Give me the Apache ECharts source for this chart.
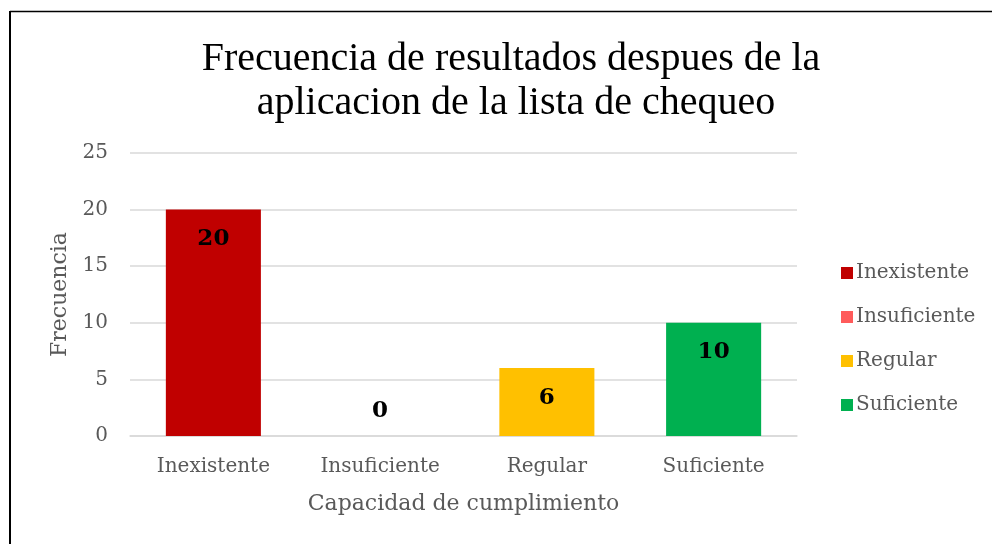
<!DOCTYPE html>
<html>
<head>
<meta charset="utf-8">
<script src="https://cdn.jsdelivr.net/npm/echarts@6/dist/echarts.min.js"></script>
<style>
  html, body { margin: 0; padding: 0; background: #fff; }
  #chart { width: 992px; height: 544px; }
</style>
</head>
<body>
<div id="chart"></div>
<script>
  // datos
  const categories = ['Inexistente', 'Insuficiente', 'Regular', 'Suficiente']
  const values = [20, 0, 6, 10]
  const colors = ['#C00000', '#FF5B5B', '#FFC000', '#00B050']
  const yTicks = [0, 5, 10, 15, 20, 25]

  const serif = '"DejaVu Serif", serif'
  const grey = '#595959'

  const chart = echarts.init(document.getElementById('chart'))

  const series = categories.map((name, i) => {
    const data = categories.map((c, j) => (j === i ? values[i] : '-'))
    const zero = values[i] === 0
    return {
      name: name,
      type: 'bar',
      stack: 'total',
      barWidth: '57%',
      data: data,
      itemStyle: { color: colors[i] },
      label: {
        show: true,
        position: zero ? 'top' : 'insideTop',
        distance: zero ? 13 : 18,
        color: '#000',
        fontFamily: serif,
        fontWeight: 'bold',
        fontSize: 23
      },
      animation: false
    }
  })

  chart.setOption({
    title: {
      text: 'Frecuencia de resultados despues de la\n aplicacion de la lista de chequeo',
      left: 506,
      top: 32,
      textAlign: 'center',
      textStyle: {
        fontFamily: '"Liberation Serif", serif',
        fontWeight: 'normal',
        fontSize: 40,
        lineHeight: 44,
        color: '#000'
      }
    },
    legend: {
      orient: 'vertical',
      left: 836,
      top: 258,
      itemWidth: 12,
      itemHeight: 12,
      itemGap: 24,
      icon: 'rect',
      textStyle: { fontFamily: serif, fontSize: 20, color: grey, padding: [0, 0, 0, -2] },
      data: categories
    },
    grid: { left: 130, right: 195, top: 153, bottom: 108 },
    xAxis: {
      type: 'category',
      data: categories,
      name: 'Capacidad de cumplimiento',
      nameLocation: 'middle',
      nameGap: 57,
      nameTextStyle: { fontFamily: serif, fontSize: 22, color: grey },
      axisLine: { lineStyle: { color: '#d9d9d9', width: 1.5 } },
      axisTick: { show: false },
      axisLabel: { fontFamily: serif, fontSize: 20, color: grey, margin: 21 }
    },
    yAxis: {
      type: 'value',
      min: yTicks[0],
      max: yTicks[yTicks.length - 1],
      interval: 5,
      name: 'Frecuencia',
      nameLocation: 'middle',
      nameGap: 59,
      nameTextStyle: { fontFamily: serif, fontSize: 22, color: grey },
      axisLine: { show: false },
      axisTick: { show: false },
      axisLabel: { fontFamily: serif, fontSize: 20, color: grey, margin: 22 },
      splitLine: { lineStyle: { color: '#d9d9d9', width: 1.5 } }
    },
    graphic: [
      { type: 'line', shape: { x1: 10, y1: 11.5, x2: 992, y2: 11.5 }, style: { stroke: '#000', lineWidth: 1.5 } },
      { type: 'line', shape: { x1: 10, y1: 11, x2: 10, y2: 544 }, style: { stroke: '#000', lineWidth: 2 } }
    ],
    series: series
  })
</script>
</body>
</html>
